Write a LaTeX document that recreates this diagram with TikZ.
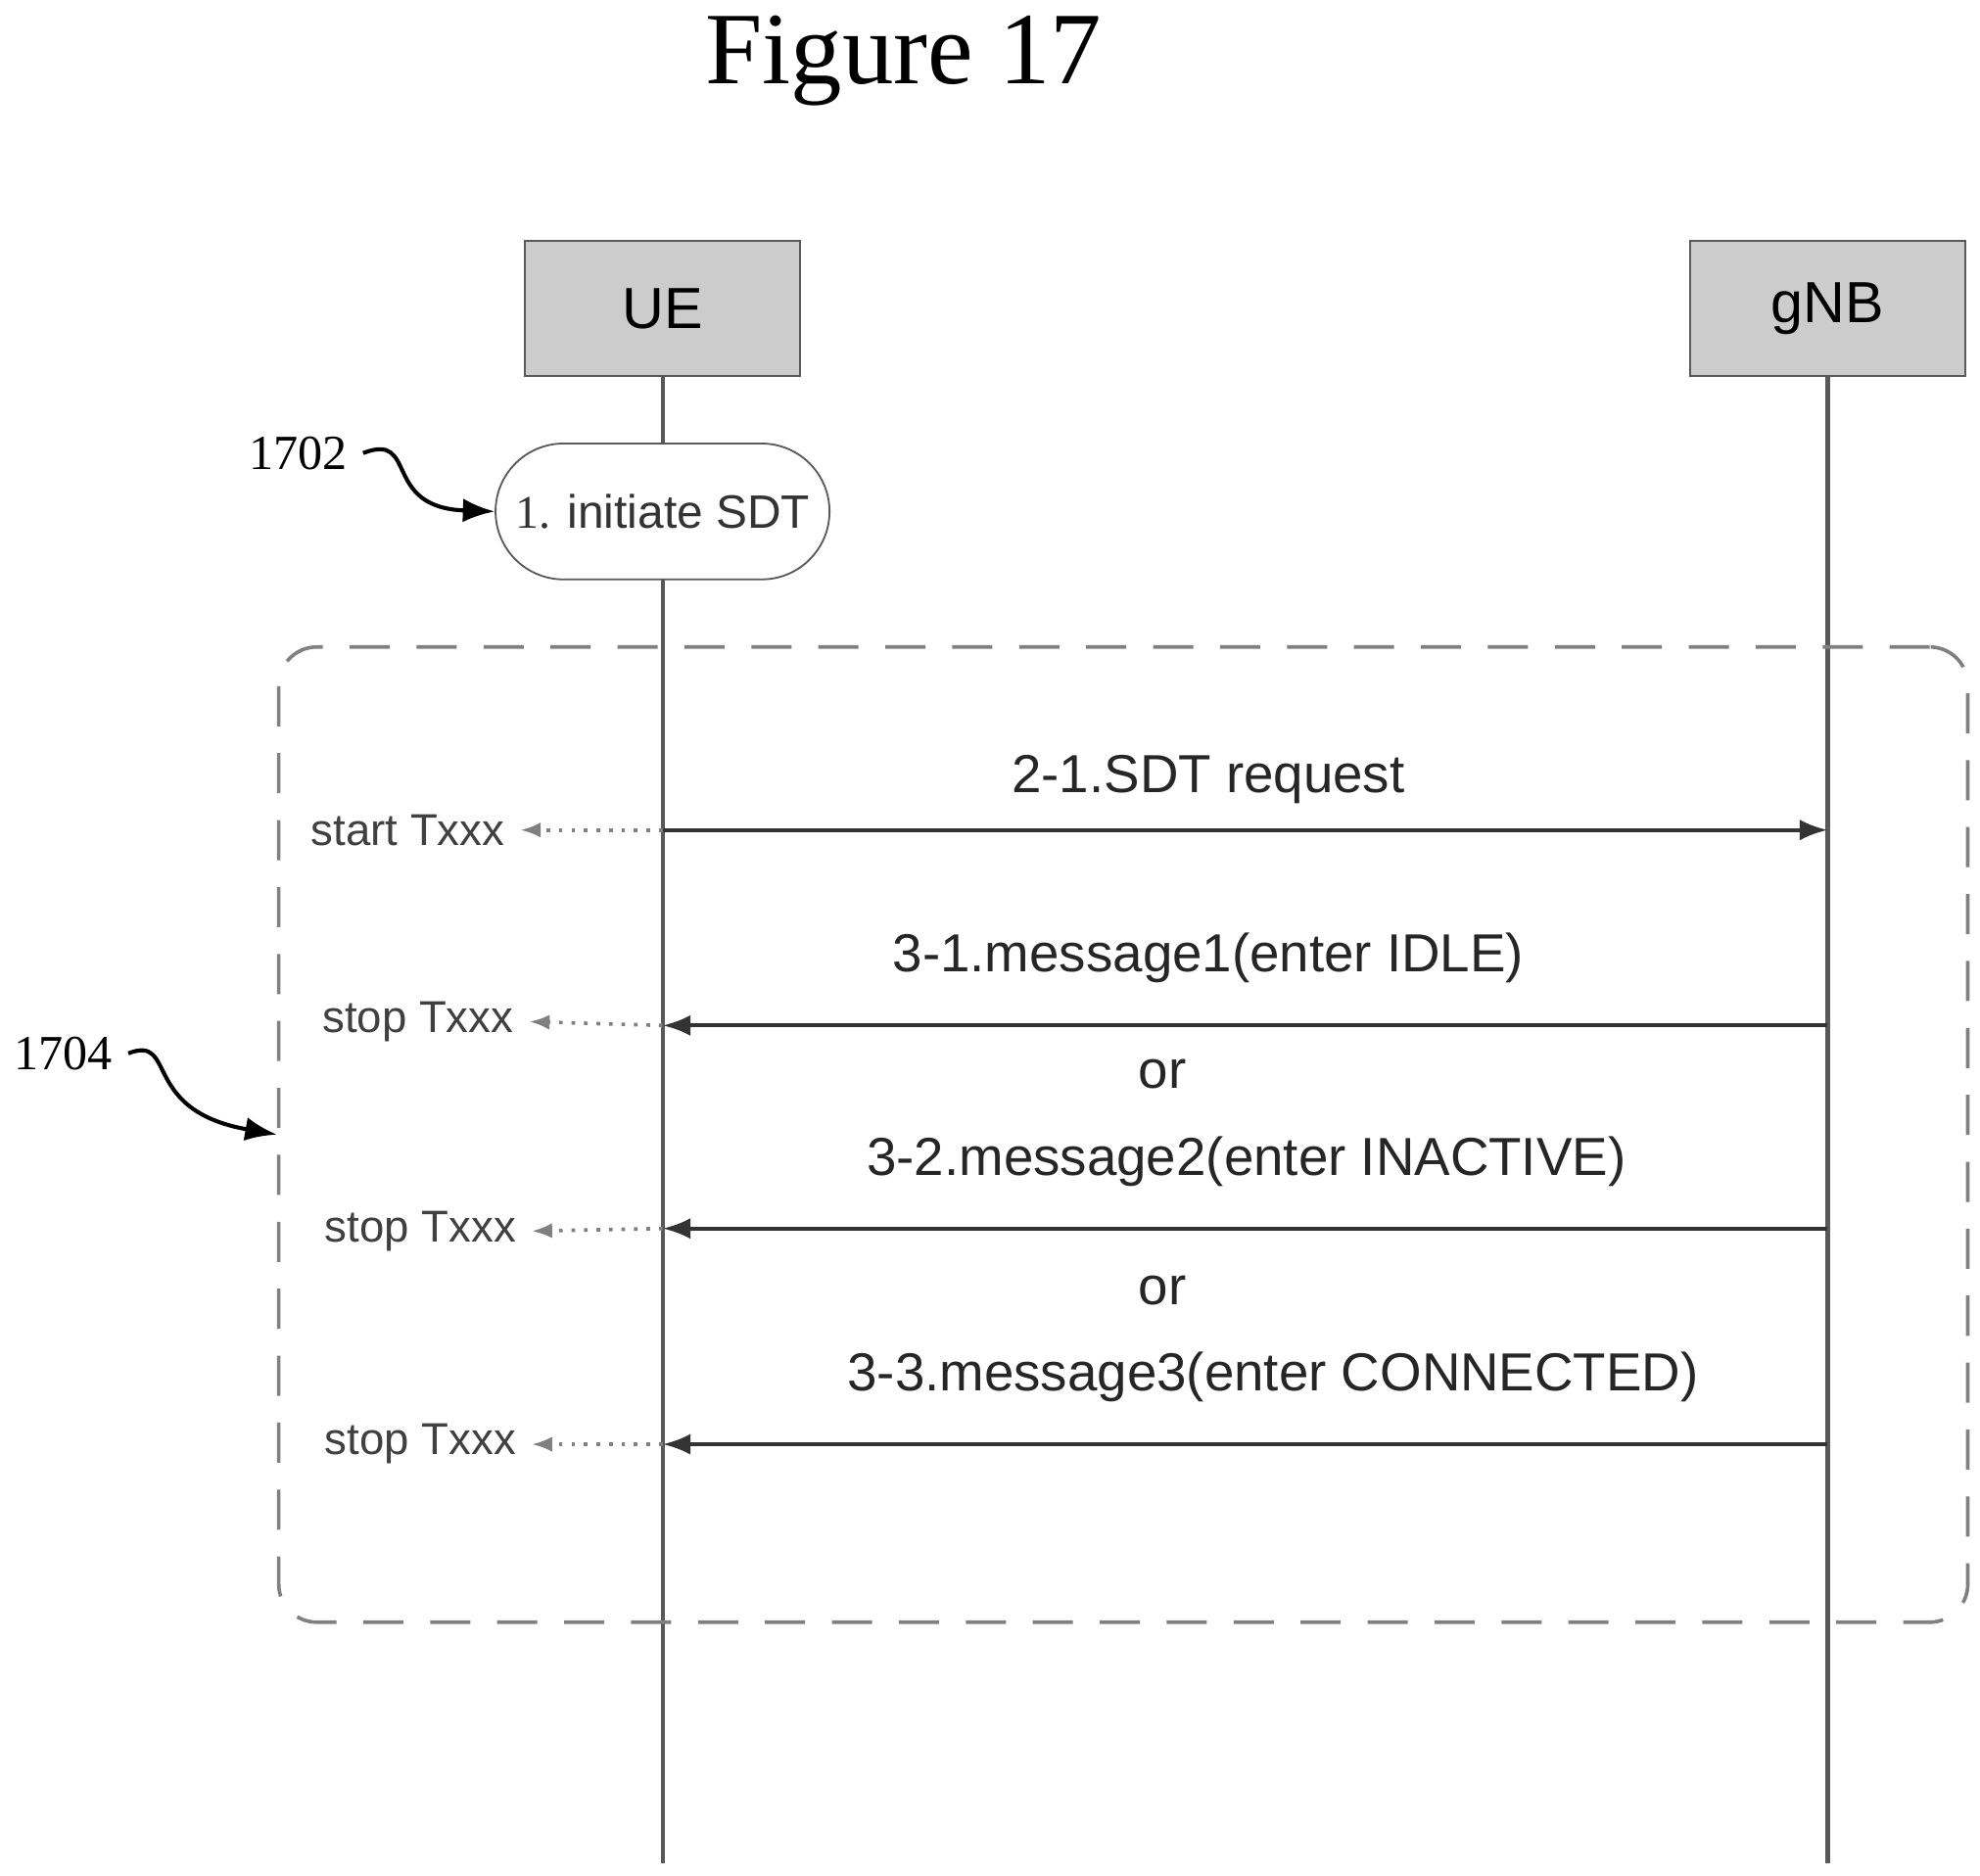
\documentclass[tikz,border=0pt]{standalone}
\usepackage{fontspec}
\setmainfont{Liberation Serif}
\setsansfont{Liberation Sans}
\usetikzlibrary{arrows.meta,shapes.misc}
\tikzset{
  entity/.style={draw=gray!70!black, fill=gray!40, minimum width=2.17cm, minimum height=1.07cm, font=\sffamily\fontsize{13}{15}\selectfont},
  life/.style={draw=gray!70!black, line width=0.9pt},
  msg/.style={-{Latex[length=2.2mm]}, draw=black!80, line width=0.9pt},
  timer/.style={-{Latex[length=1.6mm]}, draw=gray, dotted, line width=0.8pt},
  msglabel/.style={font=\sffamily\fontsize{12}{14}\selectfont, text=black!85},
  timerlabel/.style={font=\sffamily\fontsize{10}{12}\selectfont, text=black!75},
  refnum/.style={font=\fontsize{11}{13}\selectfont},
  curl/.style={-{Latex[length=2.5mm]}, line width=0.9pt}
}
\begin{document}
\begin{tikzpicture}[x=0.01cm, y=-0.01cm]
  \useasboundingbox (0,0) rectangle (1560,1478);
  \node[font=\fontsize{23}{27}\selectfont] (title) at (712,48) {Figure 17};

  % entities and life lines
  \node[entity] (ue) at (522,243) {UE};
  \node[entity] (gnb) at (1440,243) {gNB};
  \coordinate (ueend) at (522,1468);
  \coordinate (gnbend) at (1440,1468);
  \draw[life] (ue.south) -- (ueend);
  \draw[life] (gnb.south) -- (gnbend);

  % step 1
  \node[rounded rectangle, draw=gray!70!black, fill=white, minimum width=2.7cm, minimum height=1.07cm, inner xsep=1pt, font=\sffamily\fontsize{10.5}{13}\selectfont, text=black!80] (init) at (522,403) {{\rmfamily 1.} initiate SDT};
  \node[refnum] (r1702) at (235,357) {1702};
  \draw[curl] (r1702.east) .. controls (330,340) and (300,400) .. (init.west);

  % procedure frame
  \node[draw=gray, dashed, dash pattern=on 9pt off 6pt, rounded corners=0.3cm, minimum width=13.3cm, minimum height=7.68cm, line width=0.8pt] (frame) at (885,894) {};
  \node[refnum] (r1704) at (50,830) {1704};
  \draw[curl] (r1704.east) .. controls (140,815) and (110,875) .. (frame.west);

  % messages
  \coordinate (ue1) at (522,654);  \coordinate (gnb1) at (1440,654);
  \coordinate (ue2) at (522,808);  \coordinate (gnb2) at (1440,808);
  \coordinate (ue3) at (522,968);  \coordinate (gnb3) at (1440,968);
  \coordinate (ue4) at (522,1138); \coordinate (gnb4) at (1440,1138);

  \draw[msg] (ue1) -- (gnb1);
  \node[msglabel] (m21) at (952,614) {2-1.SDT request};
  \draw[msg] (gnb2) -- (ue2);
  \node[msglabel] (m31) at (952,755) {3-1.message1(enter IDLE)};
  \node[msglabel] (or1) at (916,846) {or};
  \draw[msg] (gnb3) -- (ue3);
  \node[msglabel] (m32) at (982,915) {3-2.message2(enter INACTIVE)};
  \node[msglabel] (or2) at (916,1017) {or};
  \draw[msg] (gnb4) -- (ue4);
  \node[msglabel] (m33) at (1003,1085) {3-3.message3(enter CONNECTED)};

  % timers
  \node[timerlabel, anchor=east] (t1) at (410,654) {start Txxx};
  \node[timerlabel, anchor=east] (t2) at (417,805) {stop Txxx};
  \node[timerlabel, anchor=east] (t3) at (419,970) {stop Txxx};
  \node[timerlabel, anchor=east] (t4) at (419,1138) {stop Txxx};
  \draw[timer] (ue1) -- (t1.east);
  \draw[timer] (ue2) -- (t2.east);
  \draw[timer] (ue3) -- (t3.east);
  \draw[timer] (ue4) -- (t4.east);
\end{tikzpicture}
\end{document}
